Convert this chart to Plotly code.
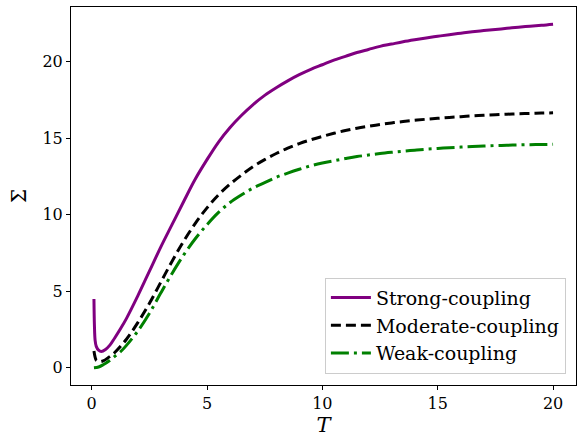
import plotly.graph_objects as go

T_strong = [0.1, 0.12, 0.15, 0.2, 0.3, 0.42, 0.6, 0.8, 1.0, 1.25, 1.5, 2.0, 2.5, 3.0, 3.5, 4.0, 4.5, 5.0,
            5.5, 6.0, 6.5, 7.0, 7.5, 8.0, 8.5, 9.0, 9.5, 10, 10.5, 11, 11.5, 12, 12.5, 13, 13.5, 14,
            14.5, 15, 15.5, 16, 16.5, 17, 17.5, 18, 18.5, 19, 19.5, 20]
S_strong = [4.5, 2.8, 1.8, 1.4, 1.15, 1.07, 1.2, 1.5, 1.95, 2.55, 3.2, 4.7, 6.3, 7.9, 9.4, 10.9, 12.35, 13.6,
            14.75, 15.7, 16.5, 17.2, 17.8, 18.3, 18.75, 19.15, 19.5, 19.8, 20.1, 20.35, 20.6, 20.8, 21.0, 21.15, 21.3, 21.43,
            21.55, 21.66, 21.76, 21.86, 21.95, 22.03, 22.1, 22.18, 22.25, 22.32, 22.38, 22.45]

T_mod = [0.1, 0.15, 0.2, 0.35, 0.5, 0.75, 1.0, 1.5, 2.0, 2.5, 3.0, 3.5, 4.0, 4.5, 5.0, 5.5, 6.0, 6.5,
         7.0, 7.5, 8.0, 8.5, 9.0, 9.5, 10, 10.5, 11, 11.5, 12, 12.5, 13, 13.5, 14, 14.5, 15, 15.5,
         16, 16.5, 17, 17.5, 18, 18.5, 19, 19.5, 20]
S_mod = [1.1, 0.7, 0.5, 0.4, 0.45, 0.7, 1.0, 1.85, 2.95, 4.2, 5.6, 7.0, 8.3, 9.45, 10.45, 11.3, 12.0, 12.6,
         13.15, 13.6, 14.0, 14.35, 14.65, 14.9, 15.12, 15.32, 15.5, 15.65, 15.78, 15.9, 16.0, 16.09, 16.17, 16.24, 16.3, 16.36,
         16.41, 16.46, 16.5, 16.54, 16.57, 16.6, 16.62, 16.64, 16.66]

T_weak = [0.1, 0.3, 0.5, 0.75, 1.0, 1.25, 1.5, 2.0, 2.5, 3.0, 3.5, 4.0, 4.5, 5.0, 5.5, 6.0, 6.5, 7.0,
          7.5, 8.0, 8.5, 9.0, 9.5, 10, 10.5, 11, 11.5, 12, 12.5, 13, 13.5, 14, 14.5, 15, 15.5, 16,
          16.5, 17, 17.5, 18, 18.5, 19, 19.5, 20]
S_weak = [0.0, 0.05, 0.2, 0.45, 0.75, 1.05, 1.45, 2.4, 3.55, 4.9, 6.2, 7.4, 8.45, 9.35, 10.15, 10.8, 11.3, 11.75,
          12.1, 12.45, 12.72, 12.97, 13.2, 13.38, 13.53, 13.67, 13.8, 13.9, 14.0, 14.08, 14.15, 14.22, 14.28, 14.33, 14.38, 14.42,
          14.46, 14.49, 14.52, 14.54, 14.56, 14.58, 14.59, 14.6]

x_ticks = [0, 5, 10, 15, 20]
y_ticks = [0, 5, 10, 15, 20]

FONT = "DejaVu Serif"

fig = go.Figure()
fig.add_trace(go.Scatter(x=T_strong, y=S_strong, mode="lines", name="Strong-coupling",
                         line=dict(color="#800080", width=3, shape="spline", smoothing=1)))
fig.add_trace(go.Scatter(x=T_mod, y=S_mod, mode="lines", name="Moderate-coupling",
                         line=dict(color="black", width=3, dash="10px,5px", shape="spline", smoothing=1)))
fig.add_trace(go.Scatter(x=T_weak, y=S_weak, mode="lines", name="Weak-coupling",
                         line=dict(color="#008000", width=3, dash="18px,5px,3px,5px", shape="spline", smoothing=1)))

allx = T_strong + T_mod + T_weak
ally = S_strong + S_mod + S_weak
xmin, xmax = min(allx), max(allx)
ymin, ymax = min(ally), max(ally)
mx = 0.05 * (xmax - xmin)
my = 0.05 * (ymax - ymin)

axis_common = dict(showline=True, linecolor="black", linewidth=1, mirror=True,
                   ticks="outside", ticklen=4, tickwidth=1, tickcolor="black",
                   showgrid=False, zeroline=False,
                   tickfont=dict(family=FONT, size=16, color="black"))

fig.update_layout(
    width=577, height=437,
    margin=dict(l=71, r=1, t=7, b=52),
    plot_bgcolor="white", paper_bgcolor="white",
    xaxis=dict(range=[xmin - mx, xmax + mx], tickvals=x_ticks,
               title=dict(text="<i>T</i>", font=dict(family=FONT, size=21, color="black"), standoff=3),
               **axis_common),
    yaxis=dict(range=[ymin - my, ymax + my], tickvals=y_ticks,
               title=dict(text="Σ", font=dict(family=FONT, size=20, color="black"), standoff=10),
               **axis_common),
    legend=dict(x=0.98, y=0.03, xanchor="right", yanchor="bottom",
                bgcolor="rgba(255,255,255,0.8)", bordercolor="#cccccc", borderwidth=1,
                font=dict(family=FONT, size=19, color="black"),
                tracegroupgap=0, itemwidth=40),
    showlegend=True,
)

fig.write_html("out.html")
